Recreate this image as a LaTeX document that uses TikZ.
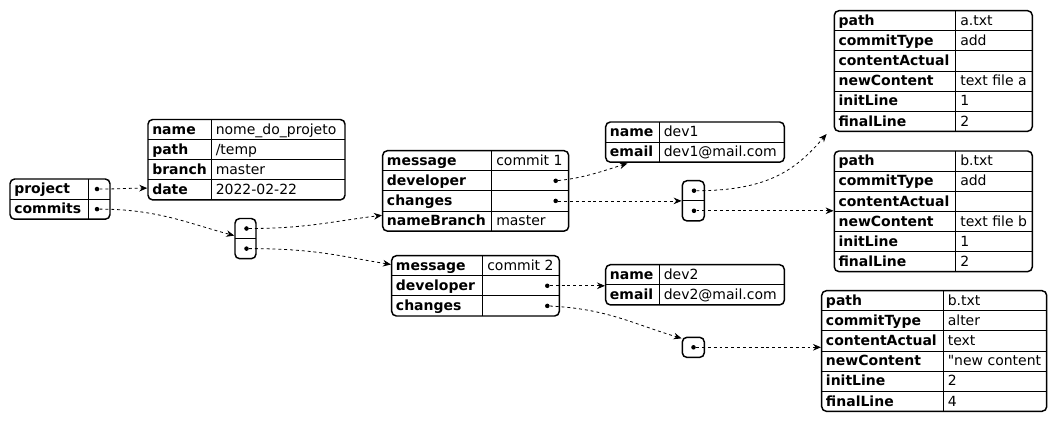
\documentclass[tikz,border=0pt]{standalone}
\usepackage{fontspec}
\setmainfont{DejaVu Sans}[Ligatures=TeXOff]
\usetikzlibrary{arrows.meta, positioning, fit, calc}

\begin{document}
\begin{tikzpicture}[x=0.75pt, y=-0.75pt,
    tbl/.style={draw, line width=1.1pt, rounded corners=3.5pt, inner sep=0pt, fill=white},
    sep/.style={line width=0.75pt},
    key/.style={anchor=base west, inner sep=0pt, font=\fontsize{10.5}{12}\selectfont\bfseries},
    val/.style={anchor=base west, inner sep=0pt, font=\fontsize{10.5}{12}\selectfont},
    ref/.style={circle, fill=black, inner sep=0pt, minimum size=3.4pt},
    link/.style={dash pattern=on 2.2pt off 2.2pt, line width=0.6pt, -{Stealth[length=6pt, width=5pt, inset=2pt]}}]
    \useasboundingbox (0,0) rectangle (1057,422);

    % root object
    \node[tbl, fit={(10,179) (110,219.2)}] (root) {};
    \draw[sep] (88,179) -- (88,219.2);
    \draw[sep] (10,199.1) -- (110,199.1);
    \node[key] (root-k0) at (14,193.8) {project};
    \node[key] (root-k1) at (14,213.9) {commits};
    \node[ref] (rootproj) at (97,189) {};
    \node[ref] (rootcom) at (97,209.1) {};

    % project
    \node[tbl, fit={(148,119.5) (345,199.9)}] (proj) {};
    \draw[sep] (211.3,119.5) -- (211.3,199.9);
    \foreach \k/\v [count=\i from 0] in {name/nome\_do\_projeto, path/{/temp}, branch/master, date/2022-02-22} {
        \ifnum\i>0 \draw[sep] (148,{119.5+20.1*\i}) -- (345,{119.5+20.1*\i}); \fi
        \node[key] (proj-k\i) at (152,{134.3+20.1*\i}) {\k};
        \node[val] (proj-v\i) at (215.5,{134.3+20.1*\i}) {\v};
    }

    % commits array
    \node[tbl, fit={(235,218.5) (256,258.7)}] (arr1) {};
    \draw[sep] (235,238.6) -- (256,238.6);
    \node[ref] (a1r0) at (246.5,228.5) {};
    \node[ref] (a1r1) at (246.5,248.6) {};

    % commit 1
    \node[tbl, fit={(382.7,150.7) (568.7,231.1)}] (c1) {};
    \draw[sep] (491.7,150.7) -- (491.7,231.1);
    \foreach \k/\v [count=\i from 0] in {message/commit 1, developer/{}, changes/{}, nameBranch/master} {
        \ifnum\i>0 \draw[sep] (382.7,{150.7+20.1*\i}) -- (568.7,{150.7+20.1*\i}); \fi
        \node[key] (c1-k\i) at (386.7,{165.5+20.1*\i}) {\k};
        \node[val] (c1-v\i) at (496,{165.5+20.1*\i}) {\v};
    }
    \node[ref] (c1dev) at (555.7,180.8) {};
    \node[ref] (c1chg) at (555.7,200.9) {};

    % commit 2
    \node[tbl, fit={(391.7,255.7) (559.3,316)}] (c2) {};
    \draw[sep] (482.7,255.7) -- (482.7,316);
    \foreach \k/\v [count=\i from 0] in {message/commit 2, developer/{}, changes/{}} {
        \ifnum\i>0 \draw[sep] (391.7,{255.7+20.1*\i}) -- (559.3,{255.7+20.1*\i}); \fi
        \node[key] (c2-k\i) at (395.7,{270.5+20.1*\i}) {\k};
        \node[val] (c2-v\i) at (487,{270.5+20.1*\i}) {\v};
    }
    \node[ref] (c2dev) at (547.3,285.8) {};
    \node[ref] (c2chg) at (547.3,305.9) {};

    % developers
    \node[tbl, fit={(605.7,122) (784.3,162.2)}] (dev1) {};
    \draw[sep] (659.3,122) -- (659.3,162.2);
    \draw[sep] (605.7,142.1) -- (784.3,142.1);
    \node[key] (dev1-k0) at (609.7,136.8) {name};
    \node[val] (dev1-v0) at (663.5,136.8) {dev1};
    \node[key] (dev1-k1) at (609.7,156.9) {email};
    \node[val] (dev1-v1) at (663.5,156.9) {dev1@mail.com};

    \node[tbl, fit={(605.7,264.7) (784.3,304.9)}] (dev2) {};
    \draw[sep] (659.3,264.7) -- (659.3,304.9);
    \draw[sep] (605.7,284.8) -- (784.3,284.8);
    \node[key] (dev2-k0) at (609.7,279.5) {name};
    \node[val] (dev2-v0) at (663.5,279.5) {dev2};
    \node[key] (dev2-k1) at (609.7,299.6) {email};
    \node[val] (dev2-v1) at (663.5,299.6) {dev2@mail.com};

    % changes arrays
    \node[tbl, fit={(682.3,180.7) (704.3,220.9)}] (arr2) {};
    \draw[sep] (682.3,200.8) -- (704.3,200.8);
    \node[ref] (a2r0) at (694,190.7) {};
    \node[ref] (a2r1) at (694,210.8) {};

    \node[tbl, fit={(682.3,337.3) (704.3,357.4)}] (arr3) {};
    \node[ref] (a3r0) at (693.5,347.3) {};

    % changes
    \node[tbl, fit={(834.3,10.7) (1032.3,131.3)}] (cha) {};
    \draw[sep] (955.7,10.7) -- (955.7,131.3);
    \foreach \k/\v [count=\i from 0] in {path/a.txt, commitType/add, contentActual/{}, newContent/text file a, initLine/1, finalLine/2} {
        \ifnum\i>0 \draw[sep] (834.3,{10.7+20.1*\i}) -- (1032.3,{10.7+20.1*\i}); \fi
        \node[key] (cha-k\i) at (838.3,{25.5+20.1*\i}) {\k};
        \node[val] (cha-v\i) at (960,{25.5+20.1*\i}) {\v};
    }

    \node[tbl, fit={(834.3,151) (1032.3,271.6)}] (chb) {};
    \draw[sep] (955.7,151) -- (955.7,271.6);
    \foreach \k/\v [count=\i from 0] in {path/b.txt, commitType/add, contentActual/{}, newContent/text file b, initLine/1, finalLine/2} {
        \ifnum\i>0 \draw[sep] (834.3,{151+20.1*\i}) -- (1032.3,{151+20.1*\i}); \fi
        \node[key] (chb-k\i) at (838.3,{165.8+20.1*\i}) {\k};
        \node[val] (chb-v\i) at (960,{165.8+20.1*\i}) {\v};
    }

    \node[tbl, fit={(821.7,290.7) (1046.7,411.3)}] (chc) {};
    \draw[sep] (943.3,290.7) -- (943.3,411.3);
    \foreach \k/\v [count=\i from 0] in {path/b.txt, commitType/alter, contentActual/text, newContent/"new content, initLine/2, finalLine/4} {
        \ifnum\i>0 \draw[sep] (821.7,{290.7+20.1*\i}) -- (1046.7,{290.7+20.1*\i}); \fi
        \node[key] (chc-k\i) at (825.7,{305.5+20.1*\i}) {\k};
        \node[val] (chc-v\i) at (947.5,{305.5+20.1*\i}) {\v};
    }

    % links
    \draw[link] (rootproj) .. controls +(25,0) and +(-20,0) .. ($(proj.south west)+(0,-12.5)$);
    \draw[link] (rootcom) .. controls +(60,0) and +(-45,-12) .. ($(arr1.west)+(0,-3)$);
    \draw[link] (a1r0) .. controls +(60,0) and +(-50,6) .. ($(c1.south west)+(0,-16.5)$);
    \draw[link] (a1r1) .. controls +(70,0) and +(-50,-8) .. ($(c2.north west)+(0,9.5)$);
    \draw[link] (c1dev) .. controls +(30,-3) and +(-20,6) .. ($(dev1.south west)+(22.5,0.5)$);
    \draw[link] (c1chg) -- (c1chg -| arr2.west);
    \draw[link] (c2dev) -- (c2dev -| dev2.west);
    \draw[link] (c2chg) .. controls +(60,3) and +(-50,-15) .. ($(arr3.west)+(0,-9)$);
    \draw[link] (a2r0) .. controls +(75,0) and +(-30,35) .. ($(cha.south west)+(-7,2)$);
    \draw[link] (a2r1) -- (a2r1 -| chb.west);
    \draw[link] (a3r0) -- (a3r0 -| chc.west);
\end{tikzpicture}
\end{document}
